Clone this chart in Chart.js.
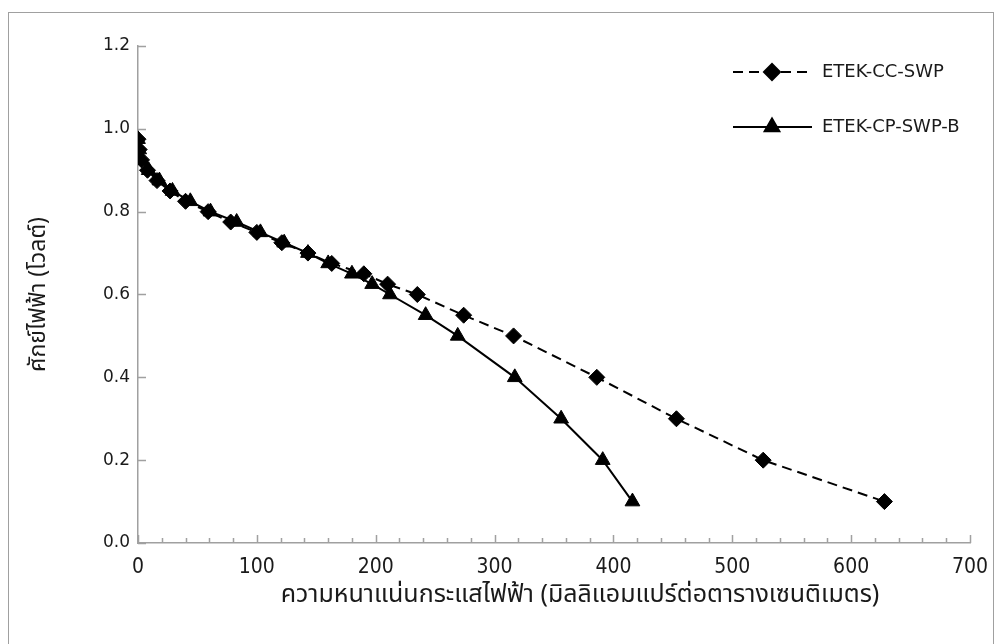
<!DOCTYPE html>
<html>
<head>
<meta charset="utf-8">
<script src="https://cdn.jsdelivr.net/npm/chart.js@4"></script>
<style>
  html, body { margin: 0; padding: 0; background: #fff; }
  #wrap { width: 1002px; height: 644px; position: relative; }
</style>
</head>
<body>
<div id="wrap"><canvas id="c" width="1002" height="644"></canvas></div>
<script>
// Polarization curves: current density (mA/cm²) vs cell voltage (V)
const seriesNames = ['ETEK-CC-SWP', 'ETEK-CP-SWP-B'];

const ccVoltage = [0.975, 0.95, 0.925, 0.9, 0.875, 0.85, 0.825, 0.8, 0.775, 0.75, 0.725, 0.7, 0.675, 0.65, 0.625, 0.6, 0.55, 0.5, 0.4, 0.3, 0.2, 0.1];
const ccCurrent = [0, 1, 3, 8, 16, 27, 40, 59, 78, 100, 121, 143, 163, 190, 210, 235, 274, 316, 386, 453, 526, 628];

const cpVoltage = [0.975, 0.95, 0.925, 0.9, 0.875, 0.85, 0.825, 0.8, 0.775, 0.75, 0.725, 0.7, 0.675, 0.65, 0.625, 0.6, 0.55, 0.5, 0.4, 0.3, 0.2, 0.1];
const cpCurrent = [0, 1, 3, 9, 18, 29, 44, 61, 83, 103, 123, 143, 160, 180, 197, 212, 242, 269, 317, 356, 391, 416];

const xTitle = 'ความหนาแน่นกระแสไฟฟ้า (มิลลิแอมแปร์ต่อตารางเซนติเมตร)';
const yTitle = 'ศักย์ไฟฟ้า (โวลต์)';

const thaiFont = "'Noto Sans Thai', 'Noto Sans', 'DejaVu Sans', sans-serif";
const axisGray = '#a0a0a0';
const textColor = '#1a1a1a';

const toPoints = (xs, ys) => xs.map((x, i) => ({ x: x, y: ys[i] }));

// Outer frame, inward tick marks, x axis title and a line-and-marker legend
const decorations = {
  id: 'decorations',
  beforeDraw(chart) {
    const ctx = chart.ctx;
    ctx.save();
    ctx.fillStyle = '#fff';
    ctx.fillRect(0, 0, chart.width, chart.height);
    ctx.strokeStyle = axisGray;
    ctx.lineWidth = 1;
    ctx.strokeRect(8.5, 12.5, 985, 640);
    ctx.restore();
  },
  afterDatasetsDraw(chart) {
    const ctx = chart.ctx;
    const xs = chart.scales.x, ys = chart.scales.y;
    const area = chart.chartArea;
    ctx.save();
    ctx.strokeStyle = axisGray;
    ctx.lineWidth = 1.5;
    ctx.beginPath();
    // y axis ticks pointing into the plot
    for (let v = 0; v <= 1.2001; v += 0.2) {
      const py = Math.round(ys.getPixelForValue(v)) + 0.5;
      ctx.moveTo(area.left, py);
      ctx.lineTo(area.left + 8, py);
    }
    // x axis major and minor ticks pointing up
    for (let v = 0; v <= 700; v += 20) {
      const px = Math.round(xs.getPixelForValue(v)) + 0.5;
      const len = (v % 100 === 0) ? 8 : 5;
      ctx.moveTo(px, area.bottom);
      ctx.lineTo(px, area.bottom - len);
    }
    ctx.stroke();
    ctx.restore();

    // x axis title, centred a little right of the plot centre
    ctx.save();
    ctx.font = "25px " + thaiFont;
    ctx.fillStyle = textColor;
    ctx.textAlign = 'center';
    ctx.textBaseline = 'middle';
    ctx.fillText(xTitle, 580, 597);
    ctx.restore();

    // legend
    const rows = [72, 127];
    chart.data.datasets.forEach((ds, i) => {
      const y = rows[i];
      ctx.save();
      ctx.strokeStyle = ds.borderColor;
      ctx.lineWidth = ds.borderWidth;
      ctx.setLineDash(ds.borderDash || []);
      ctx.beginPath();
      ctx.moveTo(733, y);
      ctx.lineTo(812, y);
      ctx.stroke();
      ctx.setLineDash([]);
      Chart.helpers.drawPoint(ctx, {
        pointStyle: ds.pointStyle,
        radius: ds.pointRadius,
        borderWidth: 1,
        rotation: 0
      }, 772, y);
      ctx.fillStyle = '#000';
      ctx.fill();
      ctx.font = "18px 'DejaVu Sans', sans-serif";
      ctx.fillStyle = textColor;
      ctx.textBaseline = 'middle';
      ctx.fillText(ds.label, 822, y);
      ctx.restore();
    });
  }
};

new Chart(document.getElementById('c'), {
  type: 'line',
  data: {
    datasets: [
      {
        label: seriesNames[0],
        data: toPoints(ccCurrent, ccVoltage),
        borderColor: '#000',
        backgroundColor: '#000',
        borderWidth: 2,
        borderDash: [10, 6],
        pointStyle: 'rectRot',
        pointRadius: 8,
        pointBorderWidth: 1,
        tension: 0,
        order: 1
      },
      {
        label: seriesNames[1],
        data: toPoints(cpCurrent, cpVoltage),
        borderColor: '#000',
        backgroundColor: '#000',
        borderWidth: 2,
        pointStyle: 'triangle',
        pointRadius: 8.5,
        pointBorderWidth: 1,
        tension: 0,
        order: 0
      }
    ]
  },
  options: {
    responsive: false,
    animation: false,
    devicePixelRatio: 1,
    layout: { padding: { top: 46, right: 32, bottom: 0, left: 0 } },
    plugins: {
      legend: { display: false },
      tooltip: { enabled: false }
    },
    scales: {
      x: {
        type: 'linear',
        min: 0,
        max: 700,
        afterFit: s => { s.height = 101; },
        grid: { display: false, drawTicks: false },
        border: { display: true, color: axisGray, width: 1.5 },
        ticks: {
          stepSize: 100,
          padding: 12,
          maxRotation: 0,
          color: textColor,
          font: { family: "'DejaVu Sans Condensed', 'DejaVu Sans', sans-serif", size: 21 }
        },
        title: { display: false }
      },
      y: {
        type: 'linear',
        min: 0,
        max: 1.2,
        afterFit: s => { s.width = 138; },
        grid: { display: false, drawTicks: false },
        border: { display: true, color: axisGray, width: 1.5 },
        ticks: {
          stepSize: 0.2,
          padding: 8,
          color: textColor,
          font: { family: "'DejaVu Sans', sans-serif", size: 17 },
          callback: v => Number(v).toFixed(1)
        },
        title: {
          display: true,
          text: yTitle,
          color: textColor,
          padding: { top: 27, bottom: 0 },
          font: { family: thaiFont, size: 23 }
        }
      }
    }
  },
  plugins: [decorations]
});
</script>
</body>
</html>
